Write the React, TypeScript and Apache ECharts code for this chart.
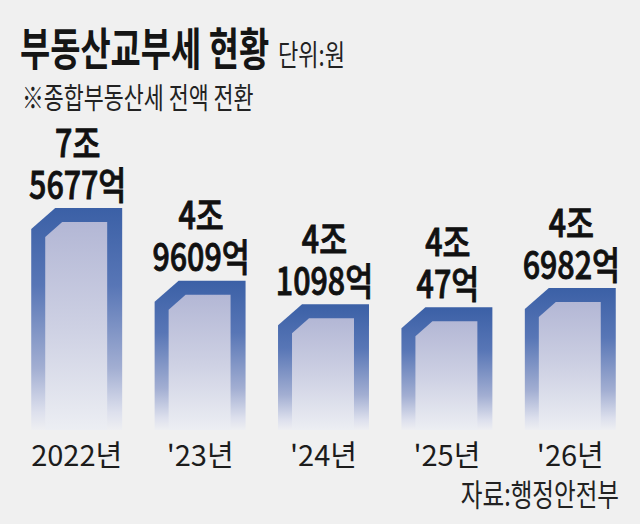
import React, { useEffect, useRef } from "react";
import * as echarts from "echarts";

const categories = ["2022년", "'23년", "'24년", "'25년", "'26년"];
// 단위: 억원
const values = [75677, 49609, 41098, 40047, 46982];

const titleText = "부동산교부세 현황";
const unitText = "단위:원";
const subtitleText = "※종합부동산세 전액 전환";
const sourceText = "자료:행정안전부";

const FONT = "'Noto Sans CJK KR', 'Noto Sans', sans-serif";

function formatLabel(v: number): string {
  const jo = Math.floor(v / 10000);
  const eok = v % 10000;
  return `${jo}조\n${eok}억`;
}

export default function App() {
  const ref = useRef<HTMLDivElement>(null);

  useEffect(() => {
    if (!ref.current) return;
    const chart = echarts.init(ref.current, undefined, { renderer: "svg" });

    const outerGrad = () =>
      new echarts.graphic.LinearGradient(0, 0, 0, 1, [
        { offset: 0, color: "#3b60a6" },
        { offset: 0.35, color: "#5876b6" },
        { offset: 0.72, color: "#a2aed2" },
        { offset: 0.92, color: "#dde0ed" },
        { offset: 1, color: "#eeeff2" },
      ]);
    const innerGrad = () =>
      new echarts.graphic.LinearGradient(0, 0, 0, 1, [
        { offset: 0, color: "#b3b7d5" },
        { offset: 0.5, color: "#cdd0e3" },
        { offset: 1, color: "#eceef3" },
      ]);

    chart.setOption({
      animation: false,
      backgroundColor: "#f0f0f0",
      grid: { left: 15, right: 8, top: 196, bottom: 94 },
      xAxis: {
        type: "category",
        data: categories,
        axisLine: { show: false },
        axisTick: { show: false },
        axisLabel: {
          fontSize: 29,
          fontFamily: FONT,
          color: "#1c1c1c",
          margin: 8,
        },
      },
      yAxis: {
        type: "value",
        min: -4000,
        max: 80000,
        show: false,
        splitLine: { show: false },
      },
      graphic: [
        {
          type: "text",
          x: 20,
          y: 46,
          scaleX: 0.73,
          style: {
            text: titleText,
            fontSize: 45,
            fontWeight: "bold",
            fontFamily: FONT,
            fill: "#151515",
            align: "left",
            verticalAlign: "middle",
          },
        },
        {
          type: "text",
          x: 278,
          y: 53,
          scaleX: 0.76,
          style: {
            text: unitText,
            fontSize: 29,
            fontFamily: FONT,
            fill: "#222",
            align: "left",
            verticalAlign: "middle",
          },
        },
        {
          type: "text",
          x: 22,
          y: 96,
          scaleX: 0.75,
          style: {
            text: subtitleText,
            fontSize: 29,
            fontFamily: FONT,
            fill: "#222",
            align: "left",
            verticalAlign: "middle",
          },
        },
        {
          type: "text",
          x: 619,
          y: 492,
          scaleX: 0.76,
          style: {
            text: sourceText,
            fontSize: 31,
            fontFamily: FONT,
            fill: "#222",
            align: "right",
            verticalAlign: "middle",
          },
        },
      ],
      series: [
        {
          type: "custom",
          data: values.map((v, i) => [i, v]),
          renderItem: (params: any, api: any) => {
            const v = api.value(1);
            const pt = api.coord([api.value(0), v]);
            const cs = params.coordSys;
            const bottom = cs.y + cs.height;
            const bw = api.size([1, 0])[0] * 0.737;
            const L = pt[0] - bw / 2;
            const T = pt[1];
            const R = L + bw;
            return {
              type: "group",
              children: [
                {
                  type: "polygon",
                  shape: {
                    points: [
                      [L, T + 21],
                      [L + 24, T],
                      [R, T],
                      [R, bottom],
                      [L, bottom],
                    ],
                  },
                  style: { fill: outerGrad() },
                },
                {
                  type: "polygon",
                  shape: {
                    points: [
                      [L + 14, T + 29],
                      [L + 31, T + 14],
                      [R - 15, T + 14],
                      [R - 15, bottom],
                      [L + 14, bottom],
                    ],
                  },
                  style: { fill: innerGrad() },
                },
                {
                  type: "text",
                  x: pt[0] + 1,
                  y: T - 5,
                  scaleX: 0.8,
                  style: {
                    text: formatLabel(v),
                    fontSize: 38,
                    lineHeight: 42,
                    fontWeight: 500,
                    fontFamily: FONT,
                    fill: "#111",
                    stroke: "#111",
                    lineWidth: 0.9,
                    align: "center",
                    verticalAlign: "bottom",
                  },
                },
              ],
            };
          },
        },
      ],
    });

    return () => chart.dispose();
  }, []);

  return (
    <div
      ref={ref}
      style={{ position: "fixed", left: 0, top: 0, width: 640, height: 524 }}
    />
  );
}
